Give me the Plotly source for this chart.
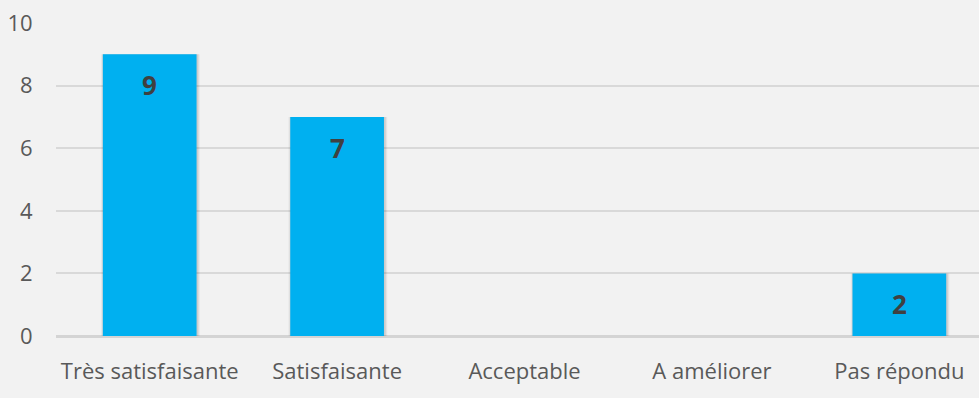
import plotly.graph_objects as go

categories = ["Très satisfaisante", "Satisfaisante", "Acceptable", "A améliorer", "Pas répondu"]
counts = [9, 7, 0, 0, 2]
y_ticks = [0, 2, 4, 6, 8, 10]

bar_color = "#00B0F0"
bg = "#F2F2F2"
bar_w = 0.5

fig = go.Figure()

# soft drop shadow: a few widening translucent layers behind each bar
for grow, alpha in [(0.028, 0.04), (0.018, 0.05), (0.009, 0.07)]:
    fig.add_trace(go.Bar(
        x=categories, y=counts, width=bar_w + grow, offset=-bar_w / 2 - grow / 2 + 0.004,
        marker=dict(color=f"rgba(0,0,0,{alpha})", line=dict(width=0)),
        hoverinfo="skip", showlegend=False,
    ))
fig.add_trace(go.Bar(
    x=categories, y=counts, width=bar_w, offset=-bar_w / 2,
    marker=dict(color=bar_color, line=dict(width=0)),
    showlegend=False,
))

for cat, v in zip(categories, counts):
    if v > 0:
        fig.add_annotation(
            x=cat, y=v, yshift=-31, text=f"<b>{v}</b>", showarrow=False,
            font=dict(family="Open Sans", size=26, color="#404040"),
        )

fig.update_layout(
    width=979, height=398,
    margin=dict(l=56, r=0, t=23, b=62),
    paper_bgcolor=bg, plot_bgcolor=bg,
    barmode="overlay",
    font=dict(family="Open Sans", size=22, color="#595959"),
)
fig.update_xaxes(
    range=[-0.5, 4.425], showgrid=False, showline=False, zeroline=False,
    ticks="outside", ticklen=16, tickcolor="rgba(0,0,0,0)",
    tickfont=dict(size=22, color="#595959"),
)
fig.update_yaxes(
    range=[0, 10], tickvals=y_ticks, showgrid=True, gridcolor="#D9D9D9", gridwidth=1.5,
    zeroline=True, zerolinecolor="#D4D4D4", zerolinewidth=2.5,
    ticks="outside", ticklen=18, tickcolor="rgba(0,0,0,0)",
    tickfont=dict(size=22, color="#595959"),
)

fig.write_html("out.html")
